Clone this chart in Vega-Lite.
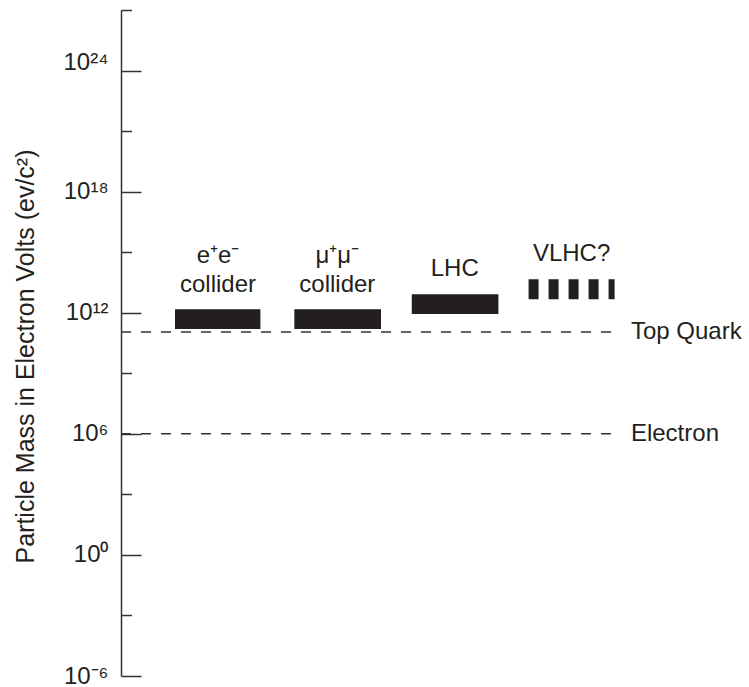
{
  "$schema": "https://vega.github.io/schema/vega-lite/v6.json",
  "width": 628,
  "height": 666,
  "autosize": {"type": "none"},
  "padding": {"left": 121, "top": 10, "right": 0, "bottom": 11},
  "background": "white",
  "config": {
    "view": {"stroke": null},
    "font": "Liberation Sans",
    "text": {"font": "Liberation Sans", "color": "#231f20"}
  },
  "datasets": {
    "colliders": [
      {"collider": "e+e- collider", "label": "e⁺e⁻\ncollider", "x_start": 8.6, "x_end": 22.2, "mass_lo": 1.56e11, "mass_hi": 1.47e12},
      {"collider": "mu+mu- collider", "label": "μ⁺μ⁻\ncollider", "x_start": 27.6, "x_end": 41.4, "mass_lo": 1.56e11, "mass_hi": 1.47e12},
      {"collider": "LHC", "label": "LHC", "x_start": 46.3, "x_end": 60.1, "mass_lo": 8.6e11, "mass_hi": 8.2e12},
      {"collider": "VLHC?", "label": "VLHC?", "x_start": 64.9, "x_end": 78.6, "mass_lo": 4.6e12, "mass_hi": 4.7e13}
    ],
    "particles": [
      {"particle": "Top Quark", "mass": 1.1e11},
      {"particle": "Electron", "mass": 1e6}
    ]
  },
  "layer": [
    {
      "data": {"name": "colliders"},
      "transform": [{"filter": "datum.collider !== 'VLHC?'"}],
      "mark": {"type": "rect", "color": "#231f20"},
      "encoding": {
        "x": {"field": "x_start", "type": "quantitative", "scale": {"domain": [0, 100], "nice": false, "zero": false}, "axis": null},
        "x2": {"field": "x_end"},
        "y": {
          "field": "mass_lo",
          "type": "quantitative",
          "scale": {"type": "log", "domain": [1e-6, 1e27], "nice": false},
          "axis": {
            "title": "Particle Mass in Electron Volts   (ev/c²)",
            "values": [1e-6, 1e-3, 1, 1e3, 1e6, 1e9, 1e12, 1e15, 1e18, 1e21, 1e24, 1e27],
            "labelExpr": "round(log(datum.value)/LN10) == 24 ? '10²⁴' : round(log(datum.value)/LN10) == 18 ? '10¹⁸' : round(log(datum.value)/LN10) == 12 ? '10¹²' : round(log(datum.value)/LN10) == 6 ? '10⁶' : round(log(datum.value)/LN10) == 0 ? '10⁰' : round(log(datum.value)/LN10) == -6 ? '10⁻⁶' : ''",
            "tickSize": {"condition": {"test": "round(log(datum.value)/LN10) % 6 === 0", "value": -20}, "value": -10.5},
            "labelPadding": 33,
            "labelOffset": {"condition": {"test": "datum.value > 1e23 && datum.value < 1e25", "value": -8}, "value": 0},
            "labelFontSize": 24,
            "labelFont": "Liberation Sans",
            "labelColor": "#231f20",
            "labelFlush": false,
            "labelOverlap": false,
            "labelBound": false,
            "tickColor": "#333333",
            "tickWidth": 1.5,
            "domainColor": "#333333",
            "domainWidth": 1.5,
            "grid": false,
            "titleFontSize": 25,
            "titleFont": "Liberation Sans",
            "titleFontWeight": "normal",
            "titleColor": "#231f20",
            "titleAngle": 270,
            "titleAlign": "center",
            "titleBaseline": "bottom",
            "titleX": -83,
            "titleY": 346
          }
        },
        "y2": {"field": "mass_hi"}
      }
    },
    {
      "data": {"name": "colliders"},
      "transform": [{"filter": "datum.collider === 'VLHC?'"}],
      "mark": {"type": "rule", "color": "#231f20", "strokeWidth": 20, "strokeDash": [10, 10], "strokeCap": "butt", "yOffset": -10},
      "encoding": {
        "x": {"field": "x_start", "type": "quantitative", "axis": null},
        "x2": {"field": "x_end"},
        "y": {"field": "mass_lo", "type": "quantitative"}
      }
    },
    {
      "data": {"name": "colliders"},
      "transform": [{"filter": "datum.collider !== 'LHC' && datum.collider !== 'VLHC?'"}],
      "mark": {"type": "text", "align": "center", "baseline": "alphabetic", "dx": 43, "dy": -46, "fontSize": 24, "lineBreak": "\n", "lineHeight": 28.4, "color": "#231f20"},
      "encoding": {
        "x": {"field": "x_start", "type": "quantitative", "axis": null},
        "y": {"field": "mass_hi", "type": "quantitative"},
        "text": {"field": "label"}
      }
    },
    {
      "data": {"name": "colliders"},
      "transform": [{"filter": "datum.collider === 'LHC' || datum.collider === 'VLHC?'"}],
      "mark": {"type": "text", "align": "center", "baseline": "alphabetic", "dx": 43, "dy": -18, "fontSize": 24, "color": "#231f20"},
      "encoding": {
        "x": {"field": "x_start", "type": "quantitative", "axis": null},
        "y": {"field": "mass_hi", "type": "quantitative"},
        "text": {"field": "label"}
      }
    },
    {
      "data": {"name": "particles"},
      "mark": {"type": "rule", "color": "#333333", "strokeWidth": 1.5, "strokeDash": [10, 10]},
      "encoding": {
        "x": {"datum": 0, "type": "quantitative"},
        "x2": {"datum": 78.6},
        "y": {"field": "mass", "type": "quantitative"}
      }
    },
    {
      "data": {"name": "particles"},
      "mark": {"type": "text", "align": "left", "baseline": "middle", "fontSize": 24, "color": "#231f20"},
      "encoding": {
        "x": {"datum": 81.2, "type": "quantitative"},
        "y": {"field": "mass", "type": "quantitative"},
        "text": {"field": "particle"}
      }
    }
  ]
}
